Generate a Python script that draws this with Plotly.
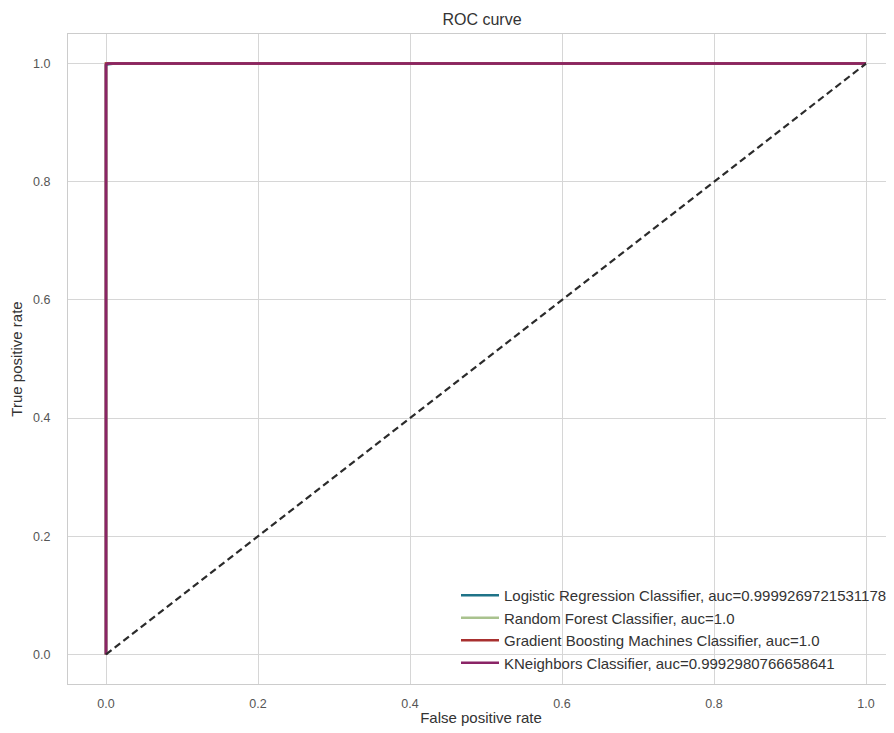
import plotly.graph_objects as go

# ROC curve data
model_names = [
    "Logistic Regression Classifier, auc=0.9999269721531178",
    "Random Forest Classifier, auc=1.0",
    "Gradient Boosting Machines Classifier, auc=1.0",
    "KNeighbors Classifier, auc=0.9992980766658641",
]
lr_fpr = [0.0, 0.0, 0.003, 0.012, 1.0]
lr_tpr = [0.0, 0.997, 0.999, 1.0, 1.0]
rf_fpr = [0.0, 0.0, 1.0]
rf_tpr = [0.0, 1.0, 1.0]
gb_fpr = [0.0, 0.0, 1.0]
gb_tpr = [0.0, 1.0, 1.0]
kn_fpr = [0.0, 0.0, 0.002, 1.0]
kn_tpr = [0.0, 0.998, 1.0, 1.0]
diag_x = [0.0, 1.0]
diag_y = [0.0, 1.0]
tick_vals = [0.0, 0.2, 0.4, 0.6, 0.8, 1.0]
tick_text = ["0.0", "0.2", "0.4", "0.6", "0.8", "1.0"]

colors = ["#1f7388", "#a9c28e", "#a8302f", "#8a2466"]
series = [(lr_fpr, lr_tpr), (rf_fpr, rf_tpr), (gb_fpr, gb_tpr), (kn_fpr, kn_tpr)]

FONT = "Liberation Sans, Arial, Helvetica, sans-serif"

fig = go.Figure()
for name, (fx, ty), c in zip(model_names, series, colors):
    fig.add_trace(go.Scatter(x=fx, y=ty, mode="lines", name=name,
                             line=dict(color=c, width=2.6)))
fig.add_trace(go.Scatter(x=diag_x, y=diag_y, mode="lines", showlegend=False,
                         line=dict(color="#2b2b2b", width=2.2, dash="7px,4px")))

# page has an 8px body margin; compensate
OFF = 8
W, H = 894 - OFF, 733 - OFF
L, R, T, B = 68 - OFF, 0, 33.5 - OFF, 733 - 684
PW = W - L - R
PH = H - T - B

fig.update_layout(
    width=W, height=H,
    margin=dict(l=L, r=R, t=T, b=B),
    paper_bgcolor="white", plot_bgcolor="white",
    font=dict(family=FONT, color="#444444"),
    title=dict(text="ROC curve", x=(482 - 68) / PW, xref="paper", xanchor="center",
               y=1 - (19 - OFF) / H, yref="container", yanchor="middle",
               font=dict(size=16, color="#333333", family=FONT)),
    showlegend=True,
    legend=dict(x=(456 - 68) / PW, xanchor="left", y=(684 - 629) / PH, yanchor="middle",
                bgcolor="rgba(0,0,0,0)", font=dict(size=15, color="#333333", family=FONT),
                tracegroupgap=0, itemwidth=38),
    xaxis=dict(range=[-0.05, (894 - 106) / 760], tickvals=tick_vals, ticktext=tick_text,
               showgrid=True, gridcolor="#d6d6d6", gridwidth=1,
               zeroline=False, showline=True, linecolor="#cccccc", linewidth=1.2, mirror=True,
               ticks="", ticklabelstandoff=8,
               tickfont=dict(size=12.5, color="#555555", family=FONT),
               title=dict(text="False positive rate", font=dict(size=15, color="#333333", family=FONT),
                          standoff=2)),
    yaxis=dict(range=[-0.05, 1.05], tickvals=tick_vals, ticktext=tick_text,
               showgrid=True, gridcolor="#d6d6d6", gridwidth=1,
               zeroline=False, showline=True, linecolor="#cccccc", linewidth=1.2, mirror=True,
               ticks="", ticklabelstandoff=14,
               tickfont=dict(size=12.5, color="#555555", family=FONT),
               title=dict(text="True positive rate", font=dict(size=15, color="#333333", family=FONT),
                          standoff=6)),
)

fig.write_html("out.html")
